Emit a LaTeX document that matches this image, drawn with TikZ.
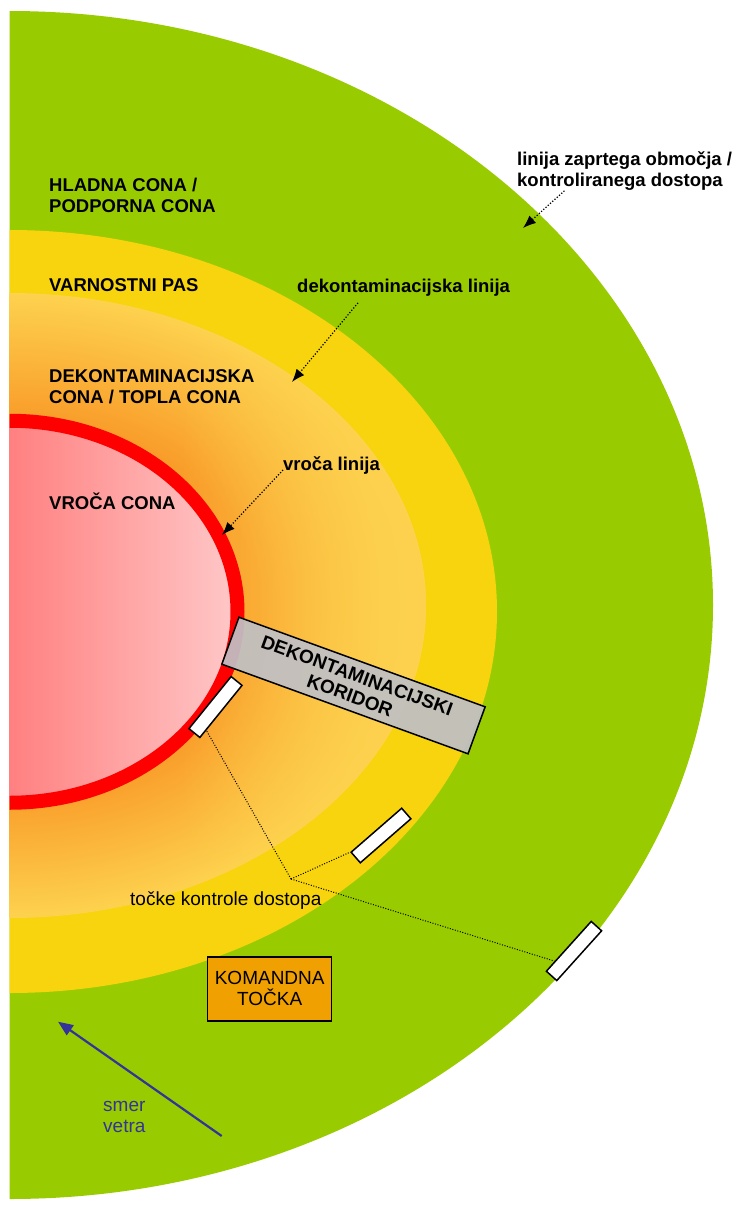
\documentclass[tikz,border=0pt]{standalone}
\usepackage{fontspec}
\setmainfont{Liberation Sans}
\usetikzlibrary{arrows.meta,calc,fadings}
\definecolor{zonegreen}{RGB}{153,204,0}
\definecolor{zoneyellow}{RGB}{248,212,14}
\definecolor{warmdark}{RGB}{249,157,42}
\definecolor{warmlight}{RGB}{253,210,78}
\definecolor{hotleft}{RGB}{255,128,128}
\definecolor{hotright}{RGB}{255,200,200}
\definecolor{hotred}{RGB}{255,0,0}
\definecolor{corrgray}{RGB}{192,192,196}
\definecolor{cmdorange}{RGB}{240,160,0}
\definecolor{windblue}{RGB}{51,51,153}
\pgfdeclareradialshading{warmzone}{\pgfpointorigin}{color(0bp)=(warmdark); color(15bp)=(warmdark); color(25bp)=(warmlight); color(50bp)=(warmlight)}
\tikzfading[name=fadeleft, left color=transparent!100, right color=transparent!0]
\tikzset{
  zonelabel/.style={font=\bfseries\fontsize{18.5}{20.8}\selectfont, anchor=base west, align=left, inner sep=0pt},
  plainlabel/.style={font=\fontsize{19}{21}\selectfont, anchor=base west, align=left, inner sep=0pt},
  pointer/.style={line width=1.2pt, dash pattern=on 1.2pt off 1.8pt, -{Latex[length=13pt,width=10pt]}},
  link/.style={line width=1pt, dash pattern=on 1pt off 1.6pt},
  gate/.style={draw, fill=white, line width=1.5pt, minimum width=67pt, minimum height=14pt, inner sep=0pt},
  corridor/.style={draw, line width=1.5pt, fill=corrgray, fill opacity=0.93, text opacity=1, minimum width=262pt, minimum height=50pt, inner sep=0pt, align=center, font=\bfseries\fontsize{19}{21}\selectfont},
  cmdbox/.style={draw, line width=1.5pt, fill=cmdorange, minimum width=124pt, minimum height=64pt, inner sep=0pt, align=center, font=\fontsize{19}{21}\selectfont},
  windarrow/.style={windblue, line width=2.2pt, -{Triangle[length=15pt,width=12pt]}}
}
\begin{document}
\begin{tikzpicture}[x=1pt, y=-1pt]
\useasboundingbox (0,0) rectangle (741,1205);

%zones, cut at the left edge
\begin{scope}
  \clip (9.5,0) rectangle (741,1205);
  \fill[zonegreen] (9.5,605) ellipse [x radius=703.5, y radius=594];
  \fill[zoneyellow] (9.5,611.5) ellipse [x radius=487.5, y radius=381.5];
  \shade[shading=warmzone] (9.5,605.5) ellipse [x radius=416.5, y radius=312.5];
  \begin{scope}
    \clip (9.5,605.5) ellipse [x radius=416.5, y radius=312.5];
    \fill[warmlight, path fading=fadeleft] (180,290) rectangle (428,920);
  \end{scope}
  \shade[left color=hotleft, right color=hotright] (9.5,802.75) arc [start angle=90, end angle=-90, x radius=228, y radius=191] -- cycle;
  \draw[hotred, line width=14pt] (9.5,611.75) ellipse [x radius=228, y radius=191];
\end{scope}

%corridor and access points
\node[corridor, rotate=-20] (corr) at (353.5,685.5) {DEKONTAMINACIJSKI\\KORIDOR};
\node[gate, rotate=51] (g1) at (215.5,707) {};
\node[gate, rotate=41] (g2) at (381,835.5) {};
\node[gate, rotate=48] (g3) at (574,951) {};
\node[cmdbox] (cmd) at (269.7,988.9) {KOMANDNA\\TOČKA};

%zone names
\node[zonelabel] (cold) at (49,212.3) {HLADNA CONA /\\PODPORNA CONA};
\node[zonelabel] (safe) at (49,291.7) {VARNOSTNI PAS};
\node[zonelabel] (warm) at (49,403.3) {DEKONTAMINACIJSKA\\CONA / TOPLA CONA};
\node[zonelabel] (hot) at (49,509.3) {VROČA CONA};

%line names
\node[zonelabel] (lzo) at (517,186.7) {linija zaprtega območja /\\kontroliranega dostopa};
\node[zonelabel] (dl) at (297,292.7) {dekontaminacijska linija};
\node[zonelabel] (vl) at (283,470) {vroča linija};
\coordinate (lzo-tip) at (523,228);
\coordinate (dl-tip) at (292,382);
\coordinate (vl-tip) at (222,535);
\draw[pointer] ($(lzo.south west)!0.22!(lzo.south east)$) -- (lzo-tip);
\draw[pointer, shorten <=8pt] ($(dl.south west)!0.31!(dl.south east)$) -- (dl-tip);
\draw[pointer] (vl.base west) -- (vl-tip);

%access control links
\node[plainlabel] (tk) at (130,905) {točke kontrole dostopa};
\coordinate (hub) at (291,879);
\draw[link] (hub) -- ($(g1.south west)!0.15!(g1.south east)$);
\draw[link] (hub) -- (g2.north west);
\draw[link] (hub) -- ($(g3.north west)!0.2!(g3.north east)$);

%wind
\node[plainlabel, text=windblue] (wind) at (103,1132) {smer\\vetra};
\coordinate (wind-tail) at (221.7,1136);
\coordinate (wind-head) at (58,1021.7);
\draw[windarrow] (wind-tail) -- (wind-head);
\end{tikzpicture}
\end{document}
